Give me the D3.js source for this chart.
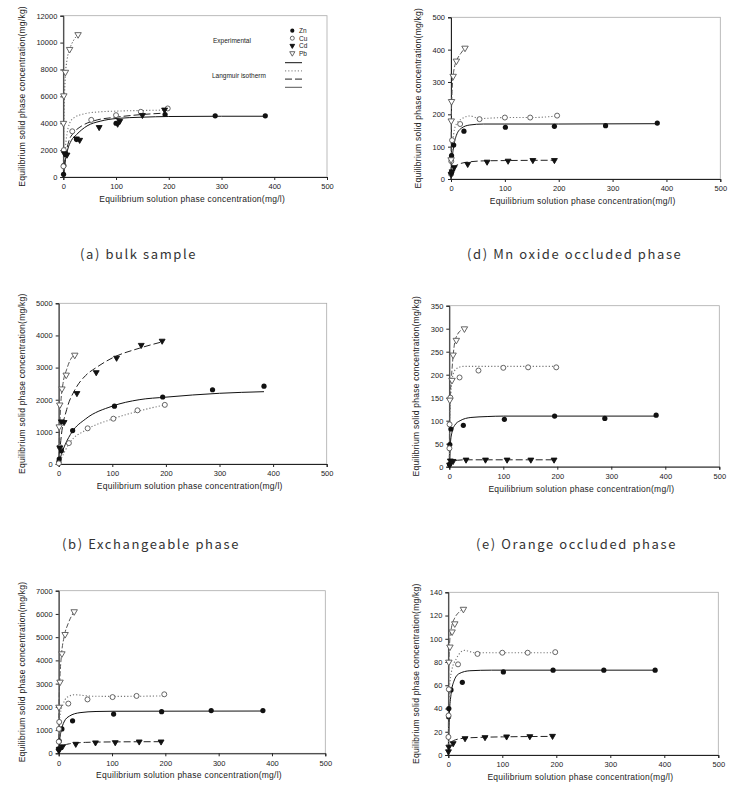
<!DOCTYPE html>
<html>
<head>
<meta charset="utf-8">
<script src="https://cdn.jsdelivr.net/npm/d3@7"></script>
<style>
  body { margin: 0; background: #fff; }
  svg { display: block; font-family: "Liberation Sans", Arial, sans-serif; }
  .caption { font-family: "Noto Sans CJK KR", sans-serif; font-size: 13px; letter-spacing: 1.6px; fill: #333; }
  .tick text { font-size: 7.5px; fill: #222; }
  .title { font-size: 8.5px; fill: #222; letter-spacing: 0.25px; }
</style>
</head>
<body>
<svg id="fig" width="731" height="811"></svg>
<script>
const metals = ["Zn", "Cu", "Cd", "Pb"];
const xTicks = [0, 100, 200, 300, 400, 500];

// (a) bulk sample
const bulkPoints = {
  Zn: [[0.5,200],[1,850],[5,1700],[25,2800],[100,4000],[193,4650],[288,4550],[383,4550]],
  Cu: [[0.2,800],[1,2000],[17,3400],[53,4250],[100,4600],[147,4850],[198,5100]],
  Cd: [[2,1750],[7,1650],[25,2850],[31,2750],[68,3700],[103,3950],[107,4150],[150,4600],[192,5000]],
  Pb: [[0.3,4000],[1,6050],[4,7800],[12,9500],[28,10600]]
};
const bulkCurves = {
  Zn: [[0,0],[3,1000],[8,2000],[15,2700],[25,3150],[45,3800],[70,4150],[100,4350],[150,4450],[200,4500],[300,4520],[383,4520]],
  Cu: [[0,0],[3,1800],[7,3200],[12,4000],[20,4400],[40,4700],[70,4850],[100,4900],[150,4950],[198,4980]],
  Cd: [[0,0],[4,1500],[10,2600],[20,3300],[35,3800],[60,4200],[100,4450],[150,4650],[192,4750]],
  Pb: [[0,0],[0.5,2500],[1.2,4500],[2.5,6300],[4,7600],[7,8700],[12,9500],[20,10200],[28,10600]]
};

// (d) Mn oxide occluded phase
const mnPoints = {
  Zn: [[0.5,20],[1,72],[5,105],[24,148],[101,160],[192,163],[287,165],[383,173]],
  Cu: [[0.2,15],[0.5,55],[2,120],[17,170],[53,185],[100,190],[147,190],[197,196]],
  Cd: [[0.3,15],[2,23],[6,36],[31,46],[67,53],[106,56],[152,58],[192,58]],
  Pb: [[0.2,60],[0.5,180],[1,240],[4,318],[10,365],[26,405]]
};
const mnCurves = {
  Zn: [[0,0],[2,60],[5,100],[10,135],[20,158],[35,167],[60,170],[100,170],[200,170],[383,171]],
  Cu: [[0,0],[2,90],[5,140],[10,170],[20,186],[35,195],[53,187],[100,190],[150,190],[197,195]],
  Cd: [[0,0],[2,20],[6,36],[15,46],[30,52],[60,56],[100,57],[192,58]],
  Pb: [[0,0],[0.3,100],[0.8,200],[2,270],[4,318],[7,350],[10,365],[18,388],[26,405]]
};

// (b) Exchangeable phase
const exchPoints = {
  Zn: [[0.3,70],[1,155],[5,415],[26,1040],[104,1800],[194,2085],[287,2310],[383,2420]],
  Cu: [[0.2,20],[2,530],[19,650],[54,1110],[102,1410],[147,1670],[198,1840]],
  Cd: [[2,510],[5,1320],[10,1300],[34,2200],[70,2850],[108,3300],[154,3700],[193,3830]],
  Pb: [[1,1160],[2,1840],[6,2340],[14,2770],[30,3390]]
};
const exchCurves = {
  Zn: [[0,0],[5,300],[12,600],[25,1000],[50,1400],[100,1800],[150,2000],[200,2080],[300,2200],[383,2250]],
  Cu: [[0,0],[10,350],[20,650],[50,1050],[100,1400],[150,1650],[198,1840]],
  Cd: [[0,0],[5,900],[15,1700],[30,2300],[50,2750],[70,3000],[100,3300],[150,3600],[193,3800]],
  Pb: [[0,0],[1,700],[2,1200],[4,1900],[8,2500],[15,2950],[22,3250],[30,3400]]
};

// (e) Orange occluded phase
const orangePoints = {
  Zn: [[0.5,5],[1,48],[3,82],[26,90],[102,103],[195,110],[288,105],[383,112]],
  Cu: [[0.2,40],[0.5,92],[2,150],[19,194],[54,209],[100,215],[146,216],[198,216]],
  Cd: [[0.5,4],[2,13],[7,12],[31,15],[67,15],[107,15],[151,15],[194,15]],
  Pb: [[1,145],[5,188],[7,243],[13,275],[28,300]]
};
const orangeCurves = {
  Zn: [[0,0],[2,50],[5,75],[10,90],[20,100],[40,107],[70,109],[100,110],[383,110]],
  Cu: [[0,0],[1,100],[3,160],[6,195],[12,212],[25,218],[60,218],[198,218]],
  Cd: [[0,0],[2,8],[6,12],[15,14],[30,15],[194,15]],
  Pb: [[0,0],[0.5,100],[2,160],[4,195],[7,240],[10,270],[15,287],[22,297],[30,303]]
};

// (c)
const cPoints = {
  Zn: [[0.3,190],[1,530],[6,1050],[26,1400],[103,1690],[193,1790],[286,1840],[383,1840]],
  Cu: [[0.2,500],[0.5,1050],[1,1350],[18,2140],[54,2320],[101,2420],[146,2470],[198,2540]],
  Cd: [[0.3,115],[1,185],[7,290],[32,400],[69,460],[106,470],[151,500],[192,500]],
  Pb: [[0.5,1990],[2.5,3070],[6,4290],[12,5120],[29,6100]]
};
const cCurves = {
  Zn: [[0,0],[2,600],[5,1000],[10,1350],[20,1600],[40,1750],[70,1800],[100,1810],[383,1820]],
  Cu: [[0,0],[1,1300],[3,1700],[8,2100],[15,2400],[30,2520],[60,2460],[100,2450],[198,2470]],
  Cd: [[0,0],[2,180],[7,300],[20,410],[50,470],[100,490],[192,500]],
  Pb: [[0,0],[0.5,2000],[2,3100],[5,4200],[10,5000],[18,5600],[29,6100]]
};

// (f)
const fPoints = {
  Zn: [[0.5,33],[1,40],[5,56],[26,62.5],[102,71.5],[194,73],[288,73],[383,73]],
  Cu: [[0.2,15.5],[0.5,34],[1,56.5],[18,78],[54,87],[100,88],[147,88],[198,88.5]],
  Cd: [[0.3,3],[1,7],[9,10],[31,14.3],[68,15.2],[108,15.8],[151,16],[193,16.3]],
  Pb: [[1,80],[3,93],[7,106],[12,113],[28,125.5]]
};
const fCurves = {
  Zn: [[0,0],[2,35],[5,52],[10,63],[20,70],[40,72.5],[80,73],[383,73]],
  Cu: [[0,0],[2,55],[6,72],[15,83],[30,90],[50,88],[100,88],[198,88]],
  Cd: [[0,3],[3,9],[10,12.5],[30,14.5],[60,15.2],[100,15.6],[193,16]],
  Pb: [[0,0],[1,80],[3,100],[6,110],[12,118],[20,123],[28,126]]
};

const yMaxes = [12000, 500, 5000, 350, 7000, 140];
const yTickSteps = [2000, 100, 1000, 50, 1000, 20];
const captions = ["(a) bulk sample", "(d) Mn oxide occluded phase", "(b) Exchangeable phase", "(e) Orange occluded phase", "", ""];
const legendLabels = ["Zn", "Cu", "Cd", "Pb"];
const xTitle = "Equilibrium solution phase concentration(mg/l)";
const yTitle = "Equilibrium solid phase concentration(mg/kg)";

const panelPoints = [bulkPoints, mnPoints, exchPoints, orangePoints, cPoints, fPoints];
const panelCurves = [bulkCurves, mnCurves, exchCurves, orangeCurves, cCurves, fCurves];

const boxes = [
  [63.3, 327, 15.7, 177],
  [451, 720.3, 17.3, 179],
  [58.7, 326.7, 303.3, 464],
  [449.3, 719.3, 305.7, 466.7],
  [58.7, 325.3, 590.7, 753.3],
  [448.3, 718.3, 592.3, 755]
];
const yTitleX = [25, 421, 25, 419, 25, 419];
const captionPos = [[80, 259], [467, 259], [62, 549], [476, 549]];

const dashes = { Zn: null, Cu: "1.2,2", Cd: "7,3", Pb: "5,2" };
const lineColor = { Zn: "#111", Cu: "#777", Cd: "#222", Pb: "#555" };

const svg = d3.select("#fig");

function drawMarker(g, metal, x, y, s) {
  s = s || 1;
  if (metal === "Zn") {
    g.append("circle").attr("cx", x).attr("cy", y).attr("r", 2.6 * s).attr("fill", "#111");
  } else if (metal === "Cu") {
    g.append("circle").attr("cx", x).attr("cy", y).attr("r", 2.5 * s)
      .attr("fill", "#fff").attr("stroke", "#555").attr("stroke-width", 0.9);
  } else {
    const filled = metal === "Cd";
    g.append("path")
      .attr("d", d3.symbol(d3.symbolTriangle, (filled ? 15 : 18) * s * s)())
      .attr("transform", "translate(" + x + "," + y + ") rotate(180)")
      .attr("fill", filled ? "#111" : "#fff")
      .attr("stroke", filled ? "#111" : "#555")
      .attr("stroke-width", 0.9);
  }
}

boxes.forEach(function (b, i) {
  const x = d3.scaleLinear().domain([0, 500]).range([b[0], b[1]]);
  const y = d3.scaleLinear().domain([0, yMaxes[i]]).range([b[3], b[2]]);
  const g = svg.append("g");

  // light frame on top / right
  g.append("rect")
    .attr("x", b[0]).attr("y", b[2])
    .attr("width", b[1] - b[0]).attr("height", b[3] - b[2])
    .attr("fill", "none").attr("stroke", "#aaa").attr("stroke-width", 0.8);

  const yt = d3.range(0, yMaxes[i] + 0.001, yTickSteps[i]);
  g.append("g")
    .attr("transform", "translate(" + b[0] + ",0)")
    .call(d3.axisLeft(y).tickValues(yt).tickSize(3).tickPadding(3).tickFormat(d3.format("d")))
    .call(s => s.select(".domain").attr("stroke", "#222"))
    .call(s => s.selectAll("line").attr("stroke", "#222"));

  g.append("g")
    .attr("transform", "translate(0," + b[3] + ")")
    .call(d3.axisBottom(x).tickValues(xTicks).tickSize(3).tickPadding(4))
    .call(s => s.select(".domain").attr("stroke", "#222"))
    .call(s => s.selectAll("line").attr("stroke", "#222"));

  g.append("text").attr("class", "title")
    .attr("x", (b[0] + b[1]) / 2 - 3).attr("y", b[3] + 25)
    .attr("text-anchor", "middle").text(xTitle);
  g.append("text").attr("class", "title")
    .attr("transform", "translate(" + yTitleX[i] + "," + ((b[2] + b[3]) / 2) + ") rotate(-90)")
    .attr("text-anchor", "middle").text(yTitle);

  const line = d3.line().x(d => x(d[0])).y(d => y(d[1])).curve(d3.curveMonotoneX);
  metals.forEach(function (m) {
    g.append("path")
      .datum(panelCurves[i][m])
      .attr("d", line)
      .attr("fill", "none")
      .attr("stroke", lineColor[m])
      .attr("stroke-width", m === "Cu" ? 1.1 : 1)
      .attr("stroke-dasharray", (i === 0 && m === "Pb") ? "1.2,2" : dashes[m]);
  });
  metals.forEach(function (m) {
    panelPoints[i][m].forEach(function (p) {
      drawMarker(g, m, x(p[0]), y(p[1]));
    });
  });

  if (captions[i]) {
    svg.append("text").attr("class", "caption")
      .attr("x", captionPos[i][0]).attr("y", captionPos[i][1])
      .text(captions[i]);
  }
});

// legend in panel (a)
const lg = svg.append("g").style("font-size", "6.5px").style("fill", "#222");
lg.append("text").attr("x", 213).attr("y", 43).text("Experimental");
lg.append("text").attr("x", 212).attr("y", 78).text("Langmuir isotherm");
legendLabels.forEach(function (m, k) {
  const yy = 30.7 + k * 7.5;
  drawMarker(lg, m, 292.3, yy, 0.8);
  lg.append("text").attr("x", 299).attr("y", yy + 2.3).text(m);
  lg.append("line")
    .attr("x1", 285).attr("x2", 302)
    .attr("y1", 62.7 + k * 8.2).attr("y2", 62.7 + k * 8.2)
    .attr("stroke", lineColor[m]).attr("stroke-width", 1)
    .attr("stroke-dasharray", k === 3 ? null : dashes[m]);
});
</script>
</body>
</html>
